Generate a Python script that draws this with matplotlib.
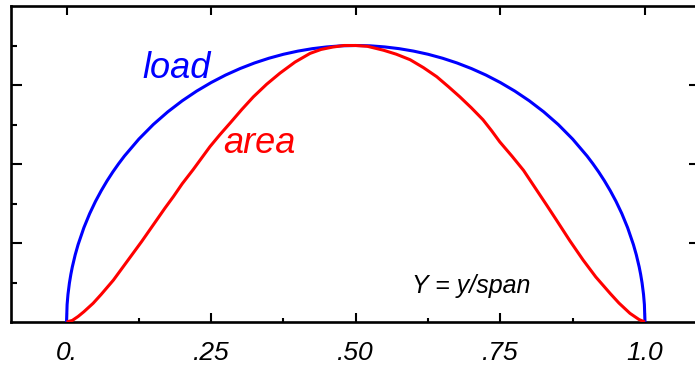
import matplotlib
matplotlib.use("Agg")
import matplotlib.pyplot as plt
from matplotlib.ticker import FixedLocator, FixedFormatter

# Spanwise position Y = y/span
load_x = [0.0, 0.001, 0.0025, 0.005, 0.0075, 0.01, 0.015, 0.02, 0.03, 0.04,
          0.05, 0.06, 0.07, 0.08, 0.09, 0.10, 0.125, 0.15, 0.175, 0.20,
          0.225, 0.25, 0.275, 0.30, 0.325, 0.35, 0.375, 0.40, 0.425, 0.45,
          0.475, 0.50, 0.525, 0.55, 0.575, 0.60, 0.625, 0.65, 0.675, 0.70,
          0.725, 0.75, 0.775, 0.80, 0.825, 0.85, 0.875, 0.90, 0.91, 0.92,
          0.93, 0.94, 0.95, 0.96, 0.97, 0.98, 0.985, 0.99, 0.9925, 0.995,
          0.9975, 0.999, 1.0]
load_y = [0.0, 0.221, 0.350, 0.494, 0.604, 0.697, 0.851, 0.98, 1.194, 1.372,
          1.526, 1.662, 1.786, 1.899, 2.003, 2.10, 2.315, 2.50, 2.66, 2.80,
          2.923, 3.031, 3.126, 3.208, 3.279, 3.339, 3.389, 3.429, 3.460, 3.482,
          3.496, 3.50, 3.496, 3.482, 3.460, 3.429, 3.389, 3.339, 3.279, 3.208,
          3.126, 3.031, 2.923, 2.80, 2.66, 2.50, 2.315, 2.10, 2.003, 1.899,
          1.786, 1.662, 1.526, 1.372, 1.194, 0.98, 0.851, 0.697, 0.604, 0.494,
          0.350, 0.221, 0.0]

area_x = [0.0, 0.01, 0.02, 0.03, 0.046, 0.06, 0.081, 0.10, 0.115, 0.13,
          0.15, 0.17, 0.185, 0.20, 0.219, 0.235, 0.248, 0.265, 0.283, 0.303,
          0.323, 0.346, 0.369, 0.395, 0.421, 0.44, 0.46, 0.48, 0.50,
          0.52, 0.548, 0.57, 0.594, 0.617, 0.640, 0.66, 0.680, 0.70, 0.720,
          0.735, 0.749, 0.77, 0.790, 0.81, 0.83, 0.847, 0.87, 0.893, 0.915,
          0.94, 0.955, 0.974, 0.99, 1.0]
area_y = [0.0, 0.02, 0.07, 0.13, 0.237, 0.35, 0.53, 0.72, 0.87, 1.02,
          1.23, 1.44, 1.59, 1.75, 1.93, 2.09, 2.22, 2.37, 2.52, 2.69,
          2.85, 3.01, 3.15, 3.29, 3.40, 3.45, 3.48, 3.50, 3.50,
          3.49, 3.44, 3.39, 3.32, 3.22, 3.105, 2.98, 2.85, 2.71, 2.56,
          2.42, 2.28, 2.10, 1.92, 1.70, 1.48, 1.29, 1.03, 0.785, 0.57,
          0.36, 0.24, 0.11, 0.03, 0.0]

x_ticks = [0.0, 0.25, 0.50, 0.75, 1.0]
x_tick_labels = ["0.", ".25", ".50", ".75", "1.0"]
x_minor = [0.125, 0.375, 0.625, 0.875]
y_ticks = [1, 2, 3]
y_minor = [0.5, 1.5, 2.5, 3.5]

FONT = "Liberation Sans"

fig = plt.figure(figsize=(6.95, 3.66), dpi=100)
ax = fig.add_axes([11 / 695, 44 / 366, 689.5 / 695, 316 / 366])

ax.plot(load_x, load_y, color="#0000ff", lw=2.2, solid_capstyle="butt", zorder=3)
ax.plot(area_x, area_y, color="#ff0000", lw=2.2, solid_capstyle="butt", zorder=3)

ax.set_xlim(-0.096, 1.096)
ax.set_ylim(0, 4)

for s in ax.spines.values():
    s.set_linewidth(1.9)
ax.spines["right"].set_visible(False)

ax.xaxis.set_major_locator(FixedLocator(x_ticks))
ax.xaxis.set_major_formatter(FixedFormatter(x_tick_labels))
ax.xaxis.set_minor_locator(FixedLocator(x_minor))
ax.yaxis.set_major_locator(FixedLocator(y_ticks))
ax.yaxis.set_minor_locator(FixedLocator(y_minor))

ax.tick_params(axis="x", which="major", direction="in", length=6.2, width=1.5,
               top=True, pad=14, labelsize=19)
ax.tick_params(axis="x", which="minor", direction="in", length=3.0, width=1.5,
               top=False)
ax.tick_params(axis="y", which="major", direction="in", length=7.9, width=1.5,
               right=True, labelleft=False)
ax.tick_params(axis="y", which="minor", direction="in", length=4.3, width=1.5,
               right=False)

for lab in ax.get_xticklabels():
    lab.set_fontfamily(FONT)
    lab.set_fontstyle("italic")

ax.text(0.132, 3.09, "load", color="#0000ff", fontsize=26, fontstyle="italic",
        fontfamily=FONT, ha="left", va="baseline")
ax.text(0.2705, 2.14, "area", color="#ff0000", fontsize=26, fontstyle="italic",
        fontfamily=FONT, ha="left", va="baseline")
ax.text(0.597, 0.367, "Y = y/span", color="black", fontsize=18, fontstyle="italic",
        fontfamily=FONT, ha="left", va="baseline")

fig.savefig("out.png", dpi=100)
